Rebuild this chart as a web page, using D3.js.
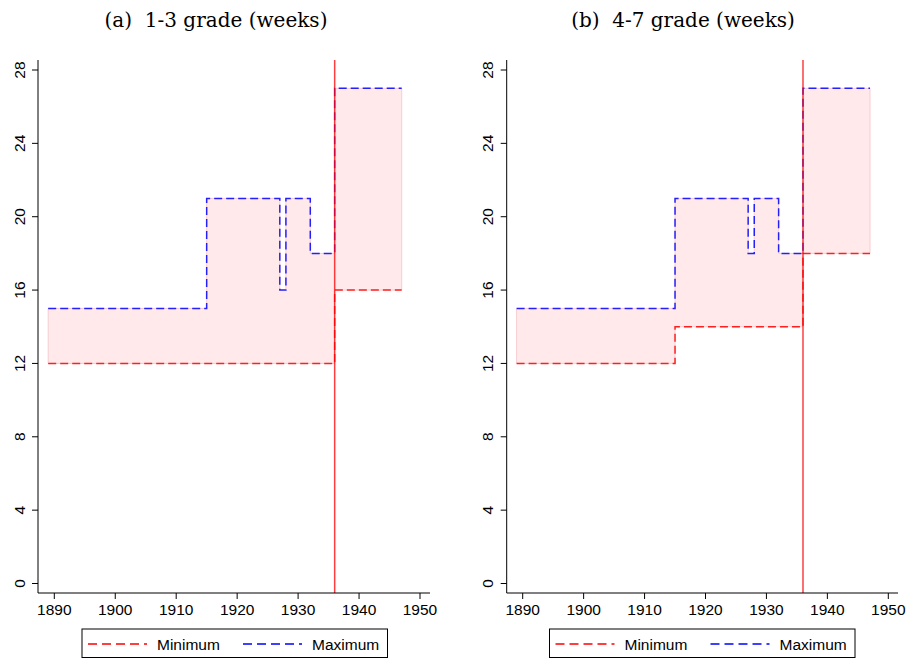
<!DOCTYPE html>
<html>
<head>
<meta charset="utf-8">
<script src="https://cdn.jsdelivr.net/npm/d3@7"></script>
<style>
  html, body { margin: 0; padding: 0; background: #fff; }
  svg { display: block; }
</style>
</head>
<body>
<svg id="chart" width="907" height="658"></svg>
<script>
// Step breakpoints (year where each level starts; last entry closes the series)
const years = [1889, 1915, 1927, 1928, 1932, 1936, 1947];

// Panel (a): grades 1-3, weeks
const minA = [12, 12, 12, 12, 12, 16, 16];
const maxA = [15, 21, 16, 21, 18, 27, 27];

// Panel (b): grades 4-7, weeks
const minB = [12, 14, 14, 14, 14, 18, 18];
const maxB = [15, 21, 18, 21, 18, 27, 27];

const xTicks = [1890, 1900, 1910, 1920, 1930, 1940, 1950];
const yTicks = [0, 4, 8, 12, 16, 20, 24, 28];
const reformYear = 1936;

const titles = ["(a)\u00a0 1-3 grade (weeks)", "(b)\u00a0 4-7 grade (weeks)"];
const legendLabels = ["Minimum", "Maximum"];

const panels = [
  { title: titles[0], min: minA, max: maxA, axisX: 38, x0: 54.3, x1: 420, right: 430, titleX: 216, legendX: 82 },
  { title: titles[1], min: minB, max: maxB, axisX: 506.7, x0: 522.7, x1: 888.3, right: 898, titleX: 683, legendX: 549.5 }
];

const svg = d3.select("#chart");
const RED = "#ff0000", BLUE = "#0000ff";
const plotTop = 60, plotBottom = 593;
const SANS = "Liberation Sans, Arial, sans-serif";

panels.forEach(p => {
  const g = svg.append("g");
  const x = d3.scaleLinear().domain([1890, 1950]).range([p.x0, p.x1]);
  const y = d3.scaleLinear().domain([0, 28]).range([583.5, 70]);

  const rows = years.map((yr, i) => ({ yr, lo: p.min[i], hi: p.max[i] }));

  // shaded band between minimum and maximum
  const area = d3.area().curve(d3.curveStepAfter)
    .x(d => x(d.yr)).y0(d => y(d.lo)).y1(d => y(d.hi));
  g.append("path").datum(rows).attr("d", area)
    .attr("fill", "#ffe9ea").attr("stroke", "#f7cdd0").attr("stroke-width", 1);

  const line = key => d3.line().curve(d3.curveStepAfter)
    .x(d => x(d.yr)).y(d => y(d[key]));

  g.append("path").datum(rows).attr("d", line("lo"))
    .attr("fill", "none").attr("stroke", RED).attr("stroke-width", 1.5)
    .attr("stroke-dasharray", "8,4").attr("opacity", 0.85);
  g.append("path").datum(rows).attr("d", line("hi"))
    .attr("fill", "none").attr("stroke", BLUE).attr("stroke-width", 1.5)
    .attr("stroke-dasharray", "8,4").attr("opacity", 0.85);

  // reform year marker
  g.append("line")
    .attr("x1", x(reformYear)).attr("x2", x(reformYear))
    .attr("y1", plotTop).attr("y2", plotBottom)
    .attr("stroke", RED).attr("stroke-width", 1.5).attr("opacity", 0.75);

  // y axis
  g.append("line").attr("x1", p.axisX).attr("x2", p.axisX)
    .attr("y1", plotTop).attr("y2", plotBottom).attr("stroke", "#000").attr("stroke-width", 1);
  yTicks.forEach(t => {
    g.append("line").attr("x1", p.axisX - 6).attr("x2", p.axisX)
      .attr("y1", y(t)).attr("y2", y(t)).attr("stroke", "#000");
    g.append("text")
      .attr("transform", `translate(${p.axisX - 13.5},${y(t)}) rotate(-90)`)
      .attr("text-anchor", "middle")
      .attr("font-family", SANS).attr("font-size", 15.5)
      .text(t);
  });

  // x axis
  g.append("line").attr("x1", p.axisX).attr("x2", p.right)
    .attr("y1", plotBottom).attr("y2", plotBottom).attr("stroke", "#000").attr("stroke-width", 1);
  xTicks.forEach(t => {
    g.append("line").attr("x1", x(t)).attr("x2", x(t))
      .attr("y1", plotBottom).attr("y2", plotBottom + 6).attr("stroke", "#000");
    g.append("text").attr("x", x(t)).attr("y", 615)
      .attr("text-anchor", "middle")
      .attr("font-family", SANS).attr("font-size", 15.5)
      .text(t);
  });

  // title
  g.append("text").attr("x", p.titleX).attr("y", 27)
    .attr("text-anchor", "middle")
    .attr("font-family", "DejaVu Serif, serif").attr("font-size", 20)
    .text(p.title);

  // legend
  const lg = g.append("g").attr("transform", `translate(${p.legendX},629)`);
  lg.append("rect").attr("x", 0).attr("y", 0).attr("width", 305.5).attr("height", 28.5)
    .attr("fill", "#fff").attr("stroke", "#000").attr("stroke-width", 1);
  const items = [{ c: RED, lx: 6, tx: 75 }, { c: BLUE, lx: 161, tx: 230 }];
  items.forEach((it, i) => {
    lg.append("line").attr("x1", it.lx).attr("x2", it.lx + 59)
      .attr("y1", 15).attr("y2", 15)
      .attr("stroke", it.c).attr("stroke-width", 1.5).attr("stroke-dasharray", "9,5");
    lg.append("text").attr("x", it.tx).attr("y", 20.5)
      .attr("font-family", SANS).attr("font-size", 15.5)
      .text(legendLabels[i]);
  });
});
</script>
</body>
</html>
